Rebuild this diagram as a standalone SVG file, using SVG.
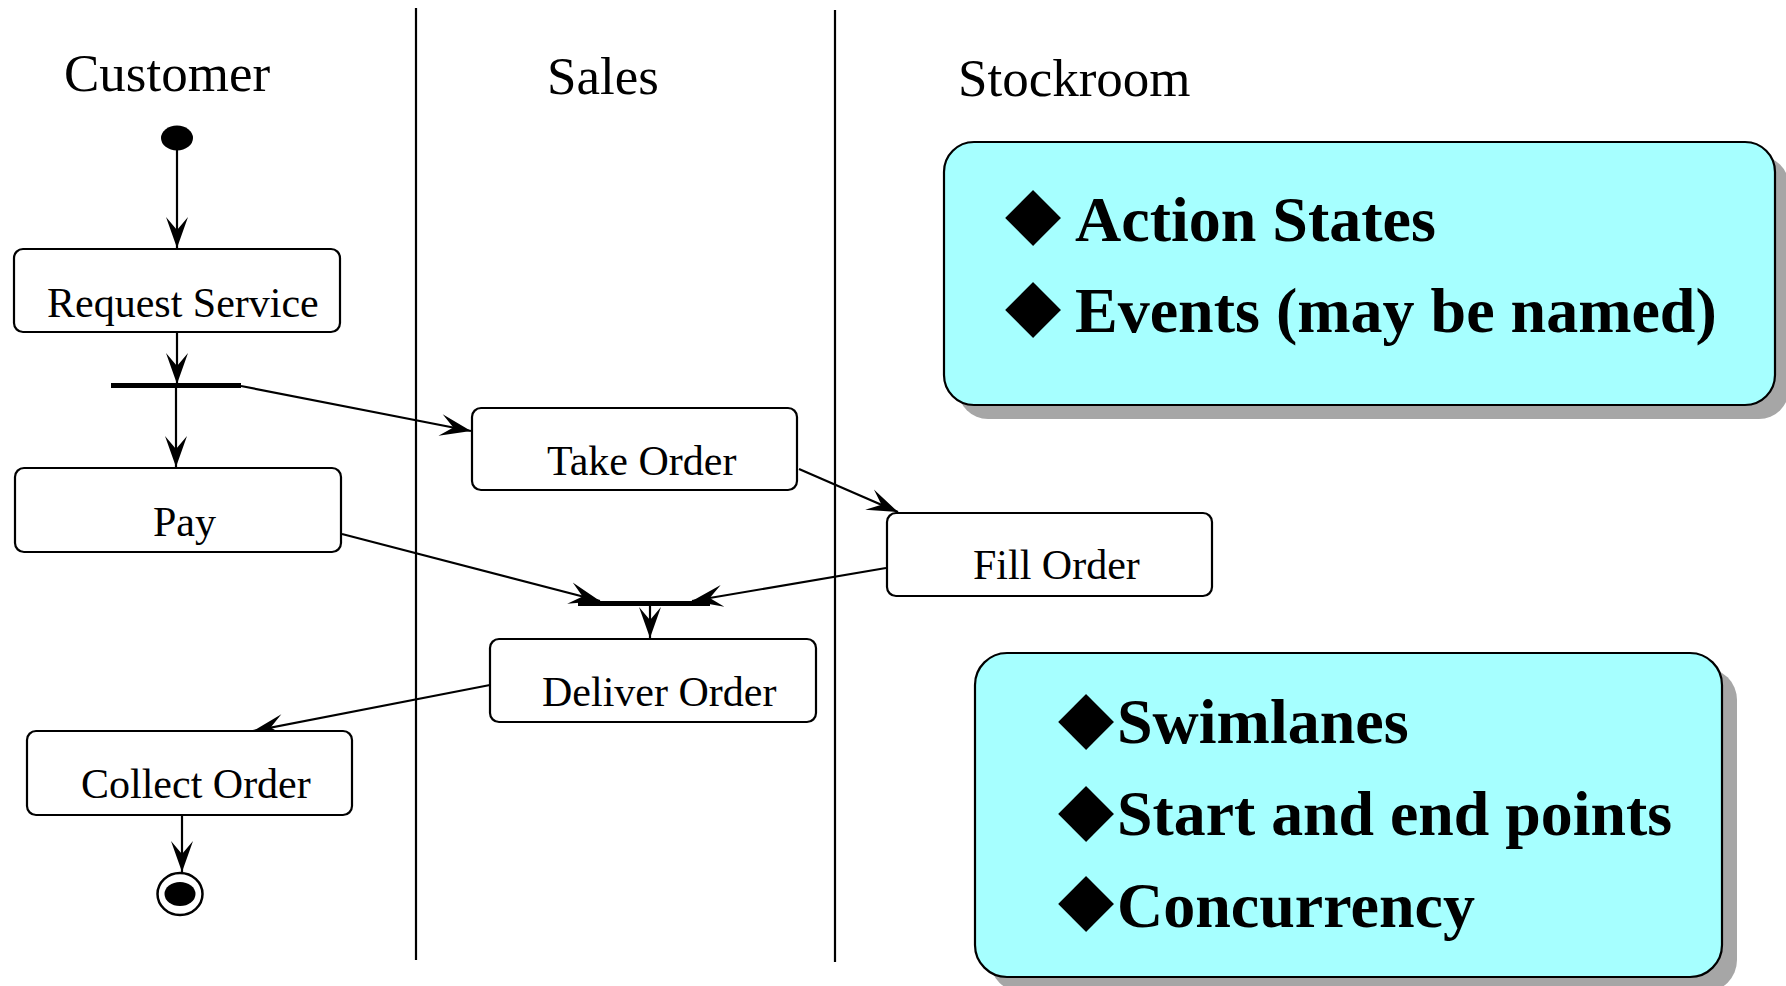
<svg xmlns="http://www.w3.org/2000/svg" width="1786" height="986" viewBox="0 0 1786 986">
<style>
.lane{stroke:#000;stroke-width:2.2;fill:none}
.title{font-family:"Liberation Serif","Times New Roman",serif;font-size:53px;fill:#000}
.box{fill:#fff;stroke:#000;stroke-width:2.2}
.lbl{font-family:"Liberation Serif","Times New Roman",serif;font-size:42px;fill:#000}
.bar{fill:#000}
.edge{stroke:#000;stroke-width:2.2;fill:none;marker-end:url(#ah)}
.shadow{fill:#a6a6a6}
.note{fill:#a6ffff;stroke:#000;stroke-width:2.2}
.bul{font-family:"DejaVu Sans",sans-serif;font-size:73px;fill:#000}
.nt{font-family:"Liberation Serif","Times New Roman",serif;font-weight:bold;font-size:64px;fill:#000}
</style>
<defs>
<marker id="ah" markerUnits="userSpaceOnUse" viewBox="-32 -12 34 24" refX="0" refY="0" markerWidth="34" markerHeight="24" orient="auto">
<path d="M0,0 L-31,-11 L-18,0 L-31,11 Z" fill="#000"/>
</marker>
</defs>
<rect width="1786" height="986" fill="#fff"/>
<g id="lanes">
<line class="lane" x1="416" y1="8" x2="416" y2="960"/>
<line class="lane" x1="835" y1="10" x2="835" y2="962"/>
<text class="title" x="64" y="91">Customer</text>
<text class="title" x="547" y="94">Sales</text>
<text class="title" x="958" y="96">Stockroom</text>
</g>
<g id="connectors">
<line class="edge" x1="177" y1="150" x2="177" y2="248"/>
<line class="edge" x1="177" y1="332" x2="177" y2="384"/>
<line class="edge" x1="241" y1="386" x2="471" y2="431"/>
<line class="edge" x1="176" y1="388" x2="176" y2="467"/>
<line class="edge" x1="799" y1="469" x2="898" y2="512"/>
<line class="edge" x1="342" y1="534" x2="600" y2="601"/>
<line class="edge" x1="886" y1="568" x2="692" y2="601"/>
<line class="edge" x1="650" y1="606" x2="650" y2="638"/>
<line class="edge" x1="490" y1="685" x2="253" y2="731"/>
<line class="edge" x1="182" y1="815" x2="182" y2="872"/>
</g>
<g id="start"><ellipse cx="177" cy="138" rx="16" ry="12.5" fill="#000"/></g>
<g id="request-service"><rect class="box" x="14" y="249" width="326" height="83" rx="9"/><text class="lbl" x="47" y="317">Request Service</text></g>
<g id="fork"><rect class="bar" x="111" y="383" width="130" height="5"/></g>
<g id="pay"><rect class="box" x="15" y="468" width="326" height="84" rx="9"/><text class="lbl" x="153" y="536">Pay</text></g>
<g id="take-order"><rect class="box" x="472" y="408" width="325" height="82" rx="9"/><text class="lbl" x="547" y="475">Take Order</text></g>
<g id="fill-order"><rect class="box" x="887" y="513" width="325" height="83" rx="9"/><text class="lbl" x="973" y="579">Fill Order</text></g>
<g id="join"><rect class="bar" x="578" y="601" width="132" height="5"/></g>
<g id="deliver-order"><rect class="box" x="490" y="639" width="326" height="83" rx="9"/><text class="lbl" x="542" y="706">Deliver Order</text></g>
<g id="collect-order"><rect class="box" x="27" y="731" width="325" height="84" rx="9"/><text class="lbl" x="81" y="798">Collect Order</text></g>
<g id="end"><ellipse cx="180" cy="894" rx="22.5" ry="21" fill="#fff" stroke="#000" stroke-width="2.5"/><ellipse cx="180" cy="894" rx="15.5" ry="12" fill="#000"/></g>
<g id="note1">
<rect class="shadow" x="958" y="156" width="831" height="263" rx="30"/>
<rect class="note" x="944" y="142" width="831" height="263" rx="30"/>
<text class="bul" x="1005" y="237">◆</text>
<text class="nt" x="1075" y="241">Action States</text>
<text class="bul" x="1005" y="329">◆</text>
<text class="nt" x="1075" y="332">Events (may be named)</text>
</g>
<g id="note2">
<rect class="shadow" x="990" y="668" width="747" height="324" rx="32"/>
<rect class="note" x="975" y="653" width="747" height="324" rx="32"/>
<text class="bul" x="1058" y="741">◆</text>
<text class="nt" x="1117" y="743">Swimlanes</text>
<text class="bul" x="1058" y="833">◆</text>
<text class="nt" x="1117" y="835" textLength="555" lengthAdjust="spacingAndGlyphs">Start and end points</text>
<text class="bul" x="1058" y="923">◆</text>
<text class="nt" x="1117" y="927">Concurrency</text>
</g>
</svg>
